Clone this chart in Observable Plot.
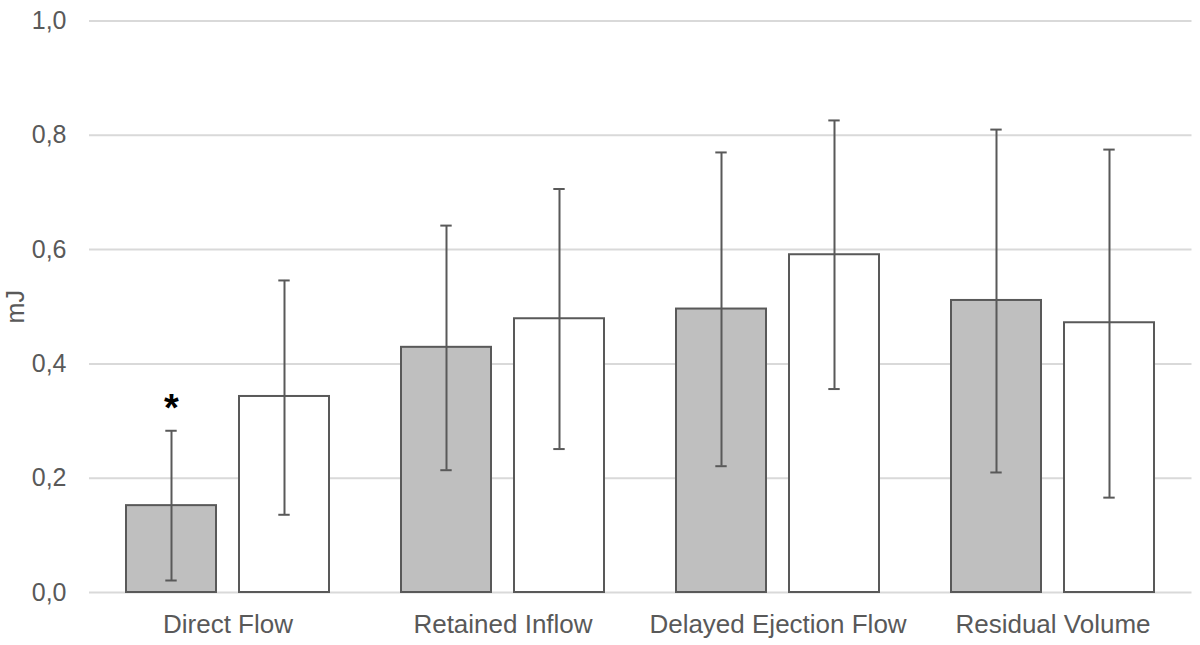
<!DOCTYPE html>
<html>
<head>
<meta charset="utf-8">
<script src="https://cdn.jsdelivr.net/npm/d3@7"></script>
<script src="https://cdn.jsdelivr.net/npm/@observablehq/plot@0.6"></script>
<style>
  html, body { margin: 0; padding: 0; background: #fff; }
  #chart { width: 1200px; height: 645px; }
</style>
</head>
<body>
<div id="chart"></div>
<script>
const categories = ["Direct Flow", "Retained Inflow", "Delayed Ejection Flow", "Residual Volume"];
const series = ["grey", "white"];
const greyMean = [0.152, 0.429, 0.496, 0.511];
const greyLow  = [0.021, 0.214, 0.221, 0.210];
const greyHigh = [0.283, 0.642, 0.770, 0.810];
const whiteMean = [0.343, 0.479, 0.591, 0.472];
const whiteLow  = [0.136, 0.251, 0.356, 0.166];
const whiteHigh = [0.546, 0.706, 0.826, 0.775];
const yTicks = [0, 0.2, 0.4, 0.6, 0.8, 1.0];
const yLabel = "mJ";
const annotations = [{category: "Direct Flow", series: "grey", label: "*"}];

const rows = [];
categories.forEach((c, i) => {
  rows.push({category: c, series: "grey", mean: greyMean[i], low: greyLow[i], high: greyHigh[i]});
  rows.push({category: c, series: "white", mean: whiteMean[i], low: whiteLow[i], high: whiteHigh[i]});
});
const annRows = annotations.map(a => {
  const r = rows.find(d => d.category === a.category && d.series === a.series);
  return {...a, y: r.high};
});

const OFF = 56.5;          // half distance between paired bar centres
const BAND_INSET = 92.5;   // leaves ~90px bar width in a ~275px band
const CAP_INSET = 131.8;   // leaves ~12px cap width
const stroke = "#595959";

const barsFor = (s, fill, dx) => Plot.barY(rows.filter(d => d.series === s), {
  x: "category", y: "mean", fill, stroke, strokeWidth: 2,
  insetLeft: BAND_INSET, insetRight: BAND_INSET, dx
});
const errFor = (s, dx) => [
  Plot.ruleX(rows.filter(d => d.series === s), {x: "category", y1: "low", y2: "high", stroke, strokeWidth: 2, dx}),
  Plot.tickY(rows.filter(d => d.series === s), {x: "category", y: "low", stroke, strokeWidth: 2, insetLeft: CAP_INSET, insetRight: CAP_INSET, dx}),
  Plot.tickY(rows.filter(d => d.series === s), {x: "category", y: "high", stroke, strokeWidth: 2, insetLeft: CAP_INSET, insetRight: CAP_INSET, dx})
];

const chart = Plot.plot({
  width: 1200,
  height: 645,
  marginLeft: 89,
  marginRight: 8.5,
  marginTop: 20.5,
  marginBottom: 53,
  style: {color: "#595959", fontFamily: "'Liberation Sans', Arial, sans-serif", background: "#fff"},
  x: {domain: categories, padding: 0},
  y: {domain: [0, 1]},
  marks: [
    Plot.ruleY(yTicks, {stroke: "#d9d9d9", strokeWidth: 2}),
    barsFor("grey", "#bfbfbf", -OFF),
    barsFor("white", "#ffffff", OFF),
    ...errFor("grey", -OFF),
    ...errFor("white", OFF),
    Plot.text(annRows, {x: "category", y: "y", text: "label", dx: -OFF, dy: -10, lineAnchor: "bottom", fontSize: 38, fontWeight: "bold", fill: "#000"}),
    Plot.axisX({tickSize: 0, tickPadding: 22, fontSize: 26, label: null, fill: "#595959"}),
    Plot.axisY({ticks: yTicks, tickFormat: d => d.toFixed(1).replace(".", ","), tickSize: 0, tickPadding: 23, fontSize: 25, fill: "#595959",
      label: yLabel, labelAnchor: "center", labelArrow: "none", labelOffset: 83})
  ]
});
document.getElementById("chart").appendChild(chart);
</script>
</body>
</html>
